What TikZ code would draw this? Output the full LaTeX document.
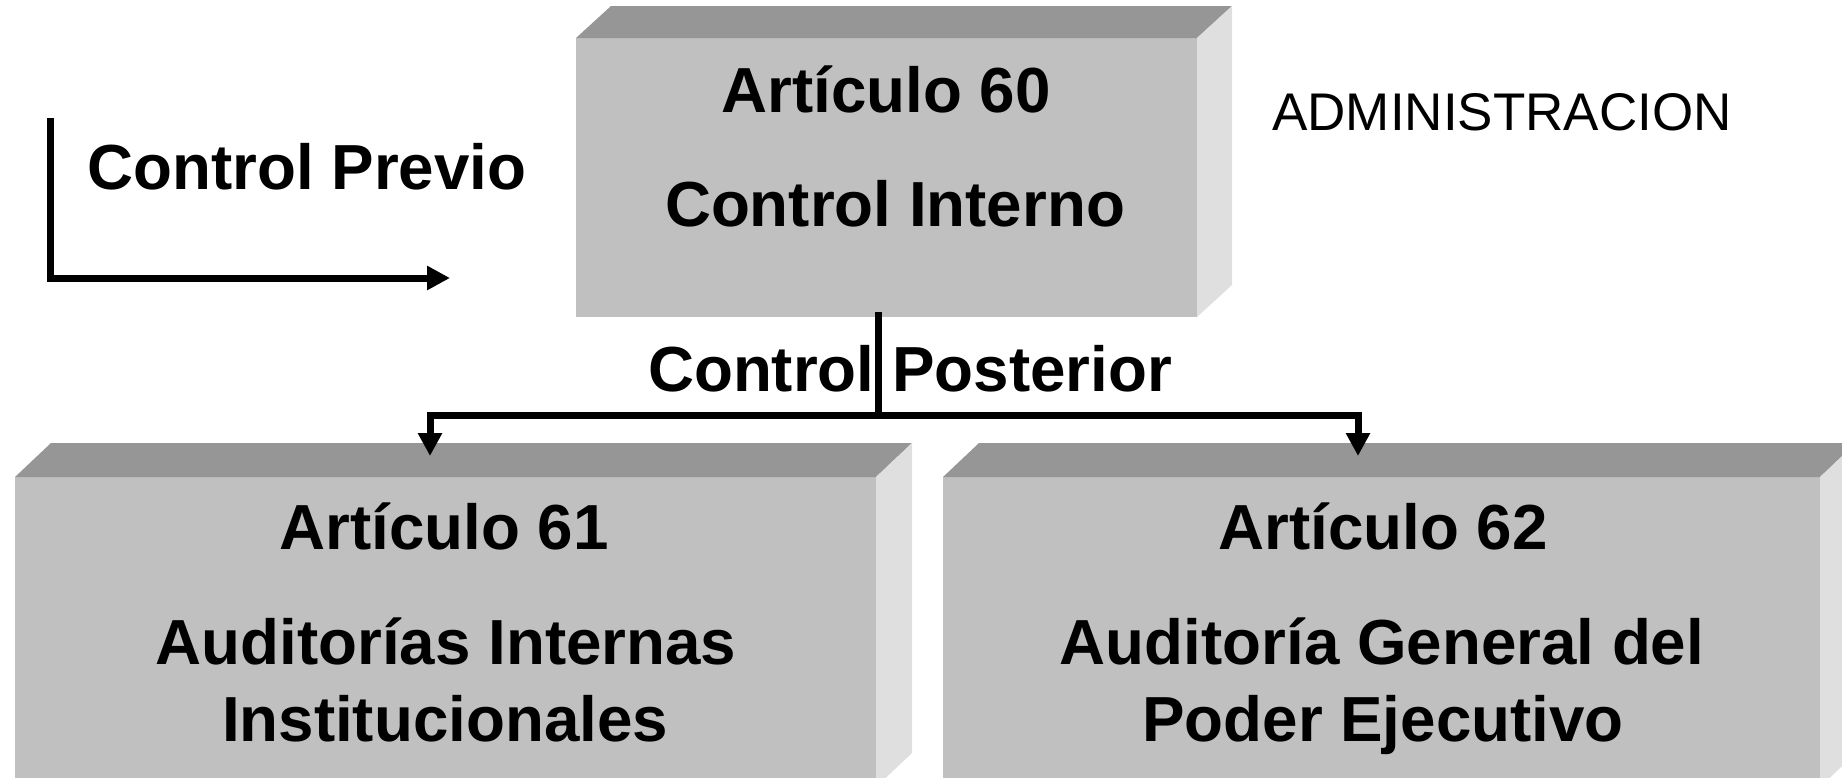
\documentclass[tikz,border=0pt]{standalone}
\usepackage{fontspec}
\setmainfont{Liberation Sans}
\usetikzlibrary{arrows.meta}
\definecolor{topface}{HTML}{969696}
\definecolor{frontface}{HTML}{C0C0C0}
\definecolor{sideface}{HTML}{DFDFDF}
\begin{document}
\begin{tikzpicture}[x=1pt,y=-1pt,
  box/.style={fill=frontface, draw=none, inner sep=0pt, outer sep=0pt, anchor=north west},
  big/.style={font=\bfseries\fontsize{63.7}{76}\selectfont, inner sep=0pt, anchor=base},
  plain/.style={font=\fontsize{53}{64}\selectfont, inner sep=0pt, anchor=base},
  conn/.style={line width=7pt, draw=black},
  tip/.style={-{Triangle[length=23pt,width=23pt]}}]
\useasboundingbox (0,0) rectangle (1842,777);
\clip (0,0) rectangle (1842,777);

% ---- top box (Articulo 60)
\node[box, minimum width=621pt, minimum height=279pt] (b60) at (576,38) {};
\fill[topface] (b60.north west) -- ++(35,-32) -- ++(621,0) -- (b60.north east) -- cycle;
\fill[sideface] (b60.north east) -- ++(35,-32) -- ++(0,279) -- (b60.south east) -- cycle;

% ---- lower left box (Articulo 61)
\node[box, minimum width=861pt, minimum height=310pt] (b61) at (15,477) {};
\fill[topface] (b61.north west) -- ++(36,-34) -- ++(861,0) -- (b61.north east) -- cycle;
\fill[sideface] (b61.north east) -- ++(36,-34) -- ++(0,310) -- (b61.south east) -- cycle;

% ---- lower right box (Articulo 62)
\node[box, minimum width=877pt, minimum height=310pt] (b62) at (943,477) {};
\fill[topface] (b62.north west) -- ++(36,-34) -- ++(877,0) -- (b62.north east) -- cycle;
\fill[sideface] (b62.north east) -- ++(36,-34) -- ++(0,310) -- (b62.south east) -- cycle;

% ---- texts
\node[big] (t60a) at (886,112) {Artículo 60};
\node[big] (t60b) at (895,226) {Control Interno};
\node[big] (t61a) at (444,549) {Artículo 61};
\node[big] (t61b) at (446,664) {Auditorías Internas};
\node[big] (t61c) at (445,741) {Institucionales};
\node[big] (t62a) at (1383,549) {Artículo 62};
\node[big] (t62b) at (1382,664) {Auditoría General del};
\node[big] (t62c) at (1383,741) {Poder Ejecutivo};
\node[big] (tprev) at (307,189) {Control Previo};
\node[big] (tpost) at (910,391) {Control Posterior};
\node[plain] (tadm) at (1502,130) {ADMINISTRACION};

% ---- Control Previo L-arrow
\coordinate (p1) at (50,118);
\coordinate (p2) at (50,278);
\coordinate (p3) at (450,278);
\draw[conn, tip] (p1) -- (p2) -- (p3);

% ---- Control Posterior connectors
\coordinate (c0) at (878,312);
\coordinate (cm) at (878,415);
\coordinate (al) at (430,456);
\coordinate (ar) at (1358,456);
\draw[conn] (c0) -- (cm);
\draw[conn, tip] (cm) -| (al);
\draw[conn, tip] (cm) -| (ar);
\end{tikzpicture}
\end{document}
